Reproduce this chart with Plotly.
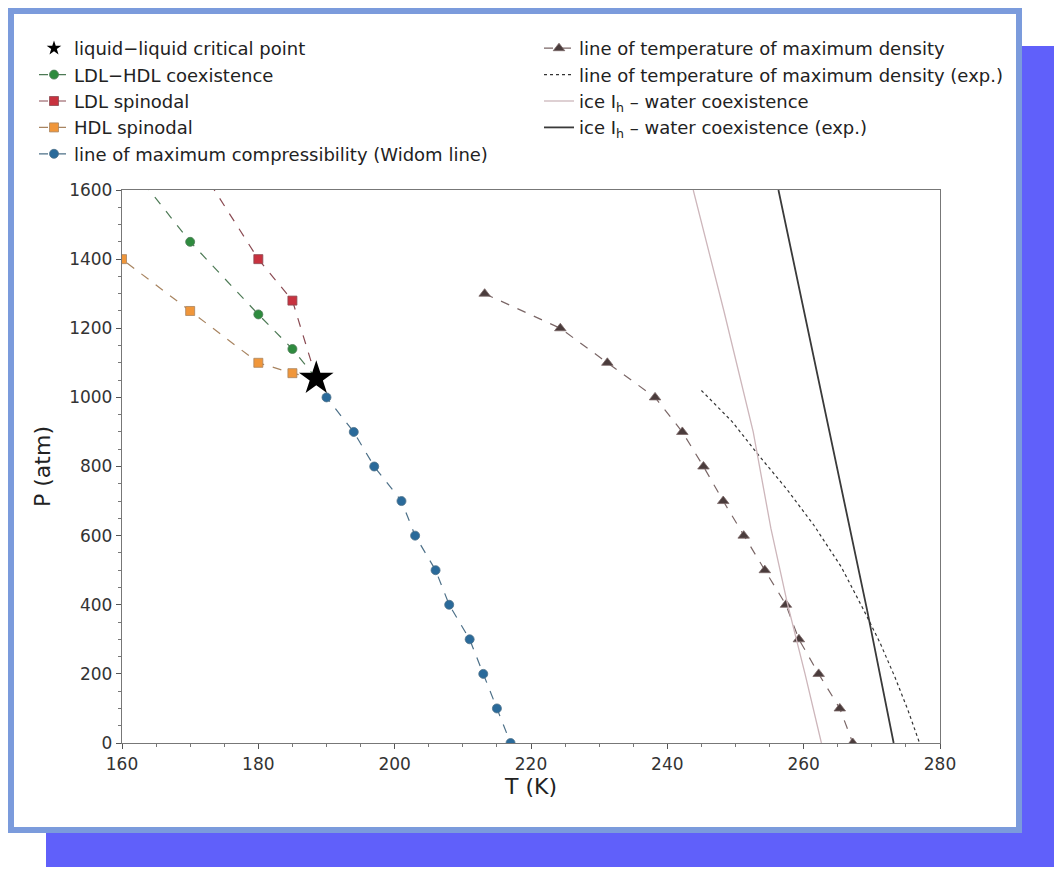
"""Phase diagram of supercooled water: LLCP, spinodals, Widom line, TMD, melting line."""

import plotly.graph_objects as go

# --- Data (T in K, P in atm) ---
critical_T = [188.5]
critical_P = [1055]

coex_T = [188.5, 185, 180, 170, 160]
coex_P = [1055, 1140, 1240, 1450, 1700]

ldl_spin_T = [188.5, 185, 180, 170]
ldl_spin_P = [1055, 1280, 1400, 1710]

hdl_spin_T = [188.5, 185, 180, 170, 160]
hdl_spin_P = [1055, 1070, 1100, 1250, 1400]

widom_T = [188.5, 190, 194, 197, 201, 203, 206, 208, 211, 213, 215, 217]
widom_P = [1055, 1000, 900, 800, 700, 600, 500, 400, 300, 200, 100, 0]

tmd_T = [213.2, 224.3, 231.2, 238.2, 242.2, 245.3, 248.2, 251.2, 254.3,
         257.4, 259.3, 262.2, 265.3, 267.2]
tmd_P = [1300, 1200, 1100, 1000, 900, 800, 700, 600, 500, 400, 300, 200, 100, 0]

tmd_exp_T = [245, 249.5, 253.5, 257.5, 261.5, 265.5, 268.8, 271.2, 273.4, 275.3, 277]
tmd_exp_P = [1020, 930, 830, 735, 630, 510, 385, 290, 190, 95, 0]

ice_T = [243.8, 248.3, 252.6, 255.2, 257.6, 260.2, 262.6]
ice_P = [1600, 1250, 900, 620, 405, 200, 0]

ice_exp_T = [256.3, 264.6, 269.3, 273.2]
ice_exp_P = [1600, 819, 385, 0]

W, H = 1062, 874
OFF = 8  # page body margin that shifts the figure
FONT = "DejaVu Sans"


def px_x(p):
    return (p - OFF) / W


def px_y(p):
    return 1 - (p - OFF) / H


fig = go.Figure()


def series(x, y, name, color, line_color, symbol, legend, rank, size=9):
    return go.Scatter(
        x=x, y=y, name=name, mode="lines+markers",
        line=dict(color=line_color, width=1.2, dash="dash"),
        marker=dict(color=color, size=size, symbol=symbol,
                    line=dict(color=line_color, width=0.8)),
        legend=legend, legendrank=rank, legendgroup=name,
    )


fig.add_trace(series(coex_T, coex_P, "LDL−HDL coexistence", "#2e8b3e", "#4d7a55",
                     "circle", "legend", 2))
fig.add_trace(series(ldl_spin_T, ldl_spin_P, "LDL spinodal", "#c8323f", "#8a4a52",
                     "square", "legend", 3))
fig.add_trace(series(hdl_spin_T, hdl_spin_P, "HDL spinodal", "#f0963a", "#a88460",
                     "square", "legend", 4))
fig.add_trace(series(widom_T, widom_P, "line of maximum compressibility (Widom line)",
                     "#2a6a9a", "#4d7088", "circle", "legend", 5))
fig.add_trace(series(tmd_T, tmd_P, "line of temperature of maximum density",
                     "#4a3c3c", "#7a6666", "triangle-up", "legend2", 1, size=10))

fig.add_trace(go.Scatter(
    x=tmd_exp_T, y=tmd_exp_P, name="line of temperature of maximum density (exp.)",
    mode="lines", line=dict(color="#333333", width=1.2, dash="dot"),
    legend="legend2", legendrank=2, legendgroup="tmd_exp",
))
fig.add_trace(go.Scatter(
    x=ice_T, y=ice_P, name="ice I<sub>h</sub> – water coexistence",
    mode="lines", line=dict(color="#cdb6bb", width=1.3),
    legend="legend2", legendrank=3, legendgroup="ice",
))
fig.add_trace(go.Scatter(
    x=ice_exp_T, y=ice_exp_P, name="ice I<sub>h</sub> – water coexistence (exp.)",
    mode="lines", line=dict(color="#3a3a3a", width=1.8),
    legend="legend2", legendrank=4, legendgroup="ice_exp",
))

# critical point on top (big in plot, small legend glyph)
fig.add_trace(go.Scatter(
    x=critical_T, y=critical_P, mode="markers", showlegend=False,
    marker=dict(color="black", size=26, symbol="star"),
))
fig.add_trace(go.Scatter(
    x=[None], y=[None], name="liquid−liquid critical point",
    mode="markers", marker=dict(color="black", size=11, symbol="star"),
    legend="legend", legendrank=1, legendgroup="llcp",
))

legend_common = dict(
    font=dict(family=FONT, size=18, color="#222222"),
    bgcolor="rgba(0,0,0,0)", borderwidth=0,
    traceorder="grouped", itemsizing="trace",
    xanchor="left", yanchor="top", tracegroupgap=0,
)

fig.update_layout(
    width=W, height=H,
    margin=dict(l=0, r=0, t=0, b=0, autoexpand=False),
    paper_bgcolor="white",
    plot_bgcolor="rgba(0,0,0,0)",
    font=dict(family=FONT, color="#333333"),
    legend=dict(x=px_x(34), y=px_y(30), **legend_common),
    legend2=dict(x=px_x(539), y=px_y(30), **legend_common),
    shapes=[
        # blue drop shadow panel
        dict(type="rect", xref="paper", yref="paper", layer="below",
             x0=px_x(46), x1=px_x(1056), y0=px_y(867), y1=px_y(46),
             fillcolor="#6060fa", line=dict(width=0)),
        # white card with light-blue border
        dict(type="rect", xref="paper", yref="paper", layer="below",
             x0=3 / W, x1=px_x(1019), y0=px_y(830), y1=1 - 3 / H,
             fillcolor="white", line=dict(color="#7b9bdc", width=6)),
    ],
)

axis_common = dict(
    showgrid=False, zeroline=False, automargin=False,
    showline=True, linecolor="#777777", linewidth=1.3, mirror=True,
    ticks="outside", ticklen=5, tickcolor="#555555",
    tickfont=dict(family=FONT, size=17, color="#333333"),
)

fig.update_xaxes(
    range=[160, 280], dtick=20, domain=[px_x(122), px_x(940)],
    title=dict(text="T (K)", font=dict(family=FONT, size=22, color="#222222"),
               standoff=4),
    minor=dict(dtick=5, ticks="outside", ticklen=3, tickcolor="#777777"),
    **axis_common,
)
fig.update_yaxes(
    range=[0, 1600], dtick=200, domain=[px_y(743), px_y(190)],
    title=dict(text="P (atm)", font=dict(family=FONT, size=22, color="#222222"),
               standoff=12),
    minor=dict(dtick=50, ticks="outside", ticklen=3, tickcolor="#777777"),
    **axis_common,
)

fig.write_html("out.html")
